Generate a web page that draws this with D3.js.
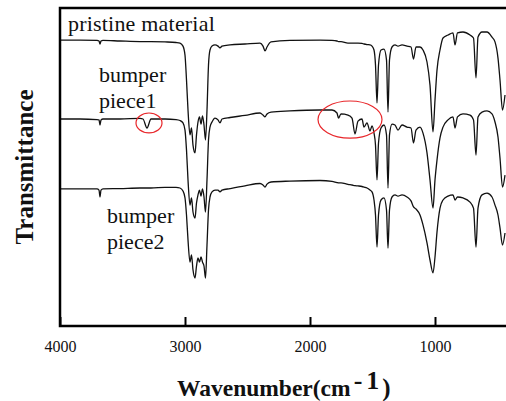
<!DOCTYPE html>
<html>
<head>
<meta charset="utf-8">
<script src="https://cdn.jsdelivr.net/npm/d3@7"></script>
<style>
  body { margin: 0; background: #fff; }
  svg { display: block; }
  svg text { font-family: "Liberation Serif", "Times New Roman", "DejaVu Serif", serif; }
</style>
</head>
<body>
<div id="chart"></div>
<script>
// FTIR spectra, wavenumber in cm-1, transmittance in a.u. (spectra stacked)
var wavenumbers = [
  4000, 3840, 3704, 3688, 3680, 3672, 3656, 3520, 3360, 3336,
  3304, 3272, 3160, 3072, 3040, 3016, 3000, 2988, 2976, 2960,
  2948, 2936, 2920, 2908, 2896, 2884, 2872, 2860, 2848, 2836,
  2824, 2812, 2800, 2784, 2760, 2736, 2720, 2704, 2640, 2520,
  2400, 2376, 2360, 2344, 2312, 2160, 1920, 1824, 1784, 1772,
  1752, 1696, 1664, 1640, 1616, 1584, 1568, 1544, 1520, 1504,
  1488, 1476, 1464, 1452, 1432, 1408, 1388, 1376, 1364, 1344,
  1320, 1296, 1264, 1224, 1192, 1172, 1152, 1120, 1096, 1064,
  1040, 1016, 1000, 984, 960, 936, 896, 856, 840, 820,
  776, 720, 692, 672, 656, 624, 584, 544, 520, 496,
  480, 460, 440
];

var pristine = [
  95.3, 95.3, 95.2, 95.0, 94.0, 95.0, 95.2, 95.0, 94.8, 94.8,
  94.8, 94.8, 94.7, 94.5, 94.3, 93.3, 90.3, 82.0, 72.0, 63.7,
  66.0, 60.3, 57.7, 63.7, 68.0, 69.7, 67.3, 70.0, 67.0, 62.0,
  72.0, 87.0, 92.0, 93.3, 93.7, 93.3, 92.7, 93.3, 93.7, 94.0,
  94.3, 93.3, 91.7, 93.0, 94.7, 95.2, 95.3, 95.2, 95.0, 94.8,
  94.8, 94.3, 94.3, 94.3, 94.3, 94.2, 94.0, 93.8, 93.7, 93.3,
  92.0, 87.0, 74.3, 87.0, 92.0, 92.3, 88.7, 71.3, 88.7, 93.0,
  93.7, 93.3, 93.7, 93.3, 93.0, 89.0, 93.0, 93.0, 92.0, 88.0,
  80.3, 64.7, 75.3, 85.3, 92.0, 96.0, 97.0, 97.7, 93.7, 97.7,
  98.0, 97.0, 96.0, 82.7, 96.3, 98.0, 98.0, 96.3, 94.7, 89.3,
  82.0, 72.0, 77.0
];

var piece1 = [
  69.0, 69.0, 68.8, 68.7, 67.0, 68.7, 69.0, 69.0, 69.2, 69.0,
  66.0, 69.0, 69.0, 68.8, 68.5, 67.7, 65.3, 58.7, 48.7, 40.3,
  42.7, 38.0, 36.0, 41.0, 43.7, 45.3, 43.3, 45.7, 43.0, 38.0,
  48.7, 62.0, 66.3, 68.0, 69.3, 68.7, 67.7, 69.0, 69.5, 70.2,
  71.0, 70.3, 69.7, 70.7, 71.3, 71.7, 72.0, 72.0, 71.0, 69.3,
  70.7, 70.3, 69.3, 64.0, 68.3, 69.0, 66.3, 67.7, 65.0, 66.7,
  64.3, 60.3, 48.7, 61.0, 66.0, 67.0, 63.7, 46.0, 63.7, 67.3,
  67.0, 65.3, 67.0, 66.3, 66.0, 61.0, 65.3, 66.3, 64.3, 57.7,
  48.7, 39.3, 48.7, 55.3, 62.7, 66.3, 68.7, 69.7, 66.0, 69.7,
  70.7, 70.3, 68.7, 57.0, 69.7, 71.3, 71.7, 70.7, 68.0, 63.0,
  56.0, 46.3, 50.3
];

var piece2 = [
  45.7, 45.7, 45.7, 45.3, 43.0, 45.3, 45.7, 45.8, 46.0, 46.0,
  46.0, 46.0, 46.2, 46.2, 46.0, 45.0, 42.7, 37.0, 28.7, 21.3,
  23.7, 18.7, 16.0, 20.0, 22.7, 21.3, 23.0, 21.3, 20.0, 16.0,
  27.0, 38.7, 43.0, 44.7, 45.3, 45.3, 44.7, 45.3, 45.8, 46.7,
  47.5, 47.0, 46.3, 47.3, 48.0, 48.3, 48.5, 48.2, 47.8, 47.7,
  47.7, 47.2, 47.0, 46.8, 46.7, 46.5, 46.3, 46.0, 45.3, 44.7,
  42.0, 37.0, 26.3, 37.0, 42.0, 42.7, 38.7, 26.0, 38.7, 43.0,
  43.7, 43.3, 43.7, 43.0, 41.7, 39.7, 39.0, 37.0, 33.7, 27.7,
  22.0, 17.7, 23.0, 31.3, 39.3, 42.0, 43.3, 43.7, 42.0, 43.0,
  42.7, 41.3, 39.3, 26.3, 39.3, 43.7, 44.3, 43.0, 40.3, 37.0,
  32.7, 27.0, 31.0
];

var xTicks = [4000, 3000, 2000, 1000];

// red rings: centre (wavenumber, transmittance) and half sizes
var ringWn = [3288, 1680];
var ringT = [67.7, 68.8];
var ringDwn = [104, 256];
var ringDt = [3.3, 6.2];

(function () {
    var width = 506,
        height = 401;
    var left = 60, top = 8, bottom = 326, right = 510;

    var x = d3.scaleLinear().domain([4000, 400]).range([left, right]);
    var y = d3.scaleLinear().domain([0, 106]).range([bottom, top]);

    var svg = d3.select("#chart")
        .append("svg")
        .attr("width", width)
        .attr("height", height);

    svg.append("defs").append("clipPath")
        .attr("id", "plot-clip")
        .append("rect")
        .attr("x", left)
        .attr("y", top)
        .attr("width", width - left)
        .attr("height", bottom - top);

    var line = d3.line()
        .x(function (d) { return x(d[0]); })
        .y(function (d) { return y(d[1]); })
        .curve(d3.curveMonotoneX);

    var spectra = [pristine, piece1, piece2];
    svg.append("g")
        .attr("clip-path", "url(#plot-clip)")
        .selectAll(".spectrum")
        .data(spectra)
        .enter().append("path")
        .attr("class", "spectrum")
        .attr("d", function (vals) {
            return line(wavenumbers.map(function (w, i) { return [w, vals[i]]; }));
        })
        .attr("fill", "none")
        .attr("stroke", "#111")
        .attr("stroke-width", 1.3)
        .attr("stroke-linejoin", "round");

    // red rings around changed bands
    svg.selectAll(".ring")
        .data(ringWn)
        .enter().append("ellipse")
        .attr("class", "ring")
        .attr("cx", function (d) { return x(d); })
        .attr("cy", function (d, i) { return y(ringT[i]); })
        .attr("rx", function (d, i) { return Math.abs(x(d + ringDwn[i]) - x(d)); })
        .attr("ry", function (d, i) { return Math.abs(y(ringT[i] + ringDt[i]) - y(ringT[i])); })
        .attr("fill", "none")
        .attr("stroke", "#e8262a")
        .attr("stroke-width", 1.2);

    // bottom axis, ticks pointing inward
    var xAxis = d3.axisBottom(x)
        .tickValues(xTicks)
        .tickFormat(d3.format("d"))
        .tickSizeInner(-9)
        .tickSizeOuter(0)
        .tickPadding(15);

    var gx = svg.append("g")
        .attr("transform", "translate(0," + bottom + ")")
        .call(xAxis)
        .attr("font-family", null);
    gx.select(".domain").remove();
    gx.selectAll(".tick line").attr("stroke", "#000").attr("stroke-width", 2);
    gx.selectAll(".tick text")
        .attr("fill", "#111")
        .style("font-size", "16px");

    // frame: left, top and bottom lines
    svg.append("path")
        .attr("d", "M" + width + "," + top + "H" + left + "V" + bottom + "H" + width)
        .attr("fill", "none")
        .attr("stroke", "#000")
        .attr("stroke-width", 2.5);

    // series labels
    var labels = svg.append("g")
        .style("font-size", "22px")
        .attr("fill", "#111");
    labels.append("text").attr("x", 68).attr("y", 30.5)
        .style("letter-spacing", "0.2px")
        .text("pristine material");
    labels.append("text").attr("x", 99).attr("y", 81.5).text("bumper");
    labels.append("text").attr("x", 99).attr("y", 108).text("piece1");
    labels.append("text").attr("x", 107).attr("y", 223).text("bumper");
    labels.append("text").attr("x", 107).attr("y", 249).text("piece2");

    // axis titles
    var titles = svg.append("g")
        .style("font-weight", "bold")
        .style("font-size", "23.5px")
        .attr("fill", "#111");
    var xt = titles.append("text")
        .attr("x", 177)
        .attr("y", 396);
    xt.append("tspan").text("Wavenumber(cm");
    xt.append("tspan").attr("dx", 3).attr("dy", -7).style("font-size", "26px").text("-");
    xt.append("tspan").attr("dx", 4).style("font-size", "26px").text("1");
    xt.append("tspan").attr("dx", 3).attr("dy", 7).style("font-size", "25px").text(")");

    titles.append("text")
        .attr("transform", "translate(33,167) rotate(-90)")
        .attr("text-anchor", "middle")
        .style("font-size", "25px")
        .text("Transmittance");
})();
</script>
</body>
</html>
